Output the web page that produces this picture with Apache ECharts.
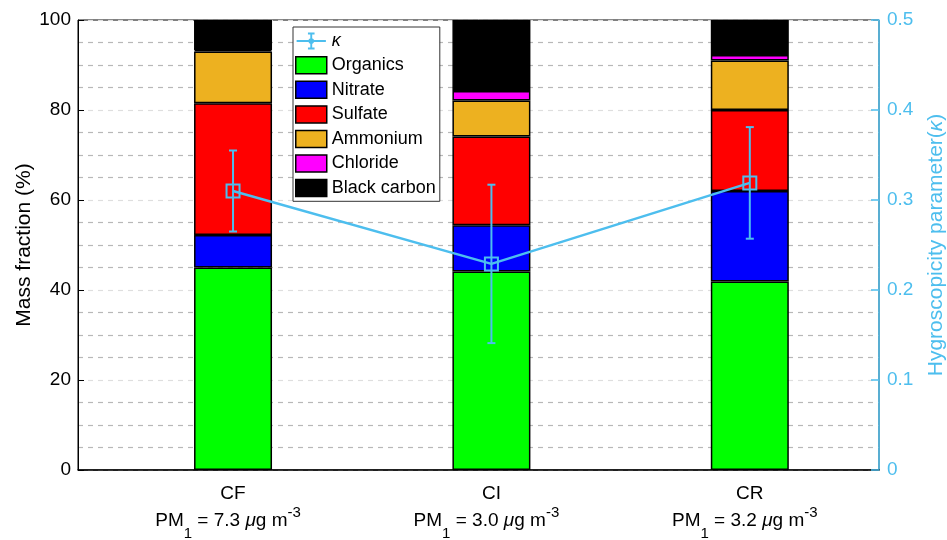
<!DOCTYPE html>
<html><head><meta charset="utf-8">
<script src="https://cdn.jsdelivr.net/npm/echarts@6/dist/echarts.min.js"></script>
<style>html,body{margin:0;padding:0;background:#fff}#c{width:947px;height:540px}</style>
</head><body><div id="c"></div>
<script>
const categories = ['CF', 'CI', 'CR'];
const pmValues = ['7.3', '3.0', '3.2'];
const xPositions = [1, 2, 3];
const organics = [45.0, 44.1, 41.9];
const nitrate = [7.2, 10.3, 20.1];
const sulfate = [29.3, 19.7, 18.0];
const ammonium = [11.5, 8.0, 11.0];
const chloride = [0.3, 2.1, 1.2];
const blackCarbon = [6.7, 15.8, 7.8];
const kappa = [0.310, 0.229, 0.319];
const kappaErr = [0.045, 0.088, 0.062];

const FONT = "'Liberation Sans', Arial, Helvetica, sans-serif";
const KC = '#4DBEEE';

const components = [
  {name: 'Organics', values: organics, color: '#00FF00'},
  {name: 'Nitrate', values: nitrate, color: '#0000FF'},
  {name: 'Sulfate', values: sulfate, color: '#FF0000'},
  {name: 'Ammonium', values: ammonium, color: '#EDB120'},
  {name: 'Chloride', values: chloride, color: '#FF00FF'},
  {name: 'Black carbon', values: blackCarbon, color: '#000000'}
];

const kappaIcon = 'path://M0,8 L31,8 L31,10 L0,10 Z M14.5,1 L16.5,1 L16.5,17 L14.5,17 Z M12,0 L19,0 L19,2 L12,2 Z M12,16 L19,16 L19,18 L12,18 Z M18.5,9 A3,3 0 1 1 12.5,9 A3,3 0 1 1 18.5,9 Z';

// value first, x position second, so the value dimension is the stacked one
const barSeries = components.map(c => ({
  name: c.name,
  type: 'bar',
  stack: 'total',
  xAxisIndex: 0,
  yAxisIndex: 0,
  barWidth: 78,
  z: 2,
  encode: {x: 1, y: 0},
  itemStyle: {color: c.color, borderColor: '#000', borderWidth: 1.5},
  data: xPositions.map((x, i) => [c.values[i], x])
}));

const chart = echarts.init(document.getElementById('c'), null, {renderer: 'canvas'});
chart.setOption({
  animation: false,
  backgroundColor: '#fff',
  textStyle: {fontFamily: FONT},
  grid: {left: 78, right: 68, top: 20, bottom: 70, containLabel: false, outerBoundsMode: 'none',
    show: true, borderColor: '#000', borderWidth: 1, backgroundColor: 'transparent'},
  legend: {
    orient: 'vertical', left: 293, top: 27,
    itemWidth: 31, itemHeight: 17, itemGap: 6.05,
    padding: [5, 4, 4, 2],
    backgroundColor: '#fff', borderColor: '#333', borderWidth: 1,
    textStyle: {fontSize: 18, color: '#000', fontFamily: FONT,
      rich: {k: {fontStyle: 'italic', fontSize: 18, fontFamily: FONT}}},
    formatter: name => name === 'κ' ? '{k|κ}' : name,
    data: [{name: 'κ', icon: kappaIcon, itemStyle: {color: KC, borderWidth: 0}}]
      .concat(components.map(c => ({name: c.name, icon: 'rect', itemStyle: {borderWidth: 1.5, borderColor: '#000'}})))
  },
  xAxis: {
    type: 'value', min: 0.4, max: 3.5,
    axisLine: {show: true, lineStyle: {color: '#000', width: 1.5}},
    axisTick: {show: false},
    splitLine: {show: false},
    axisLabel: {
      customValues: xPositions,
      margin: 12,
      formatter: v => {
        const i = xPositions.indexOf(Math.round(v));
        if (i < 0) return '';
        return '{a|' + categories[i] + '}\n{b|PM}{s|1}{b| = ' + pmValues[i] + ' }{i|μ}{b|g m}{p|-3}';
      },
      rich: {
        a: {fontSize: 19, lineHeight: 24, color: '#000', fontFamily: FONT},
        b: {fontSize: 19, lineHeight: 29, color: '#000', fontFamily: FONT},
        i: {fontSize: 19, lineHeight: 29, color: '#000', fontStyle: 'italic', fontFamily: FONT},
        s: {fontSize: 15, lineHeight: 1, padding: [27, 0, 0, 0], color: '#000', fontFamily: FONT},
        p: {fontSize: 15, lineHeight: 1, padding: [0, 10, 16, 0], color: '#000', fontFamily: FONT}
      }
    }
  },
  yAxis: [
    {
      type: 'value', min: 0, max: 100, interval: 20, position: 'left',
      name: 'Mass fraction (%)', nameLocation: 'middle', nameGap: 43, nameRotate: 90, nameMoveOverlap: false,
      nameTextStyle: {fontSize: 21, color: '#000', fontFamily: FONT},
      axisLine: {show: true, lineStyle: {color: '#000', width: 1}},
      axisTick: {show: true, inside: true, length: 6, lineStyle: {color: '#000'}},
      axisLabel: {fontSize: 19, color: '#000', margin: 7, fontFamily: FONT},
      splitLine: {show: true, lineStyle: {color: '#dedede', type: [5, 5], width: 1.2}},
      minorTick: {show: false, splitNumber: 4},
      minorSplitLine: {show: true, lineStyle: {color: '#b8b8b8', type: [5, 5], width: 1.2}}
    },
    {
      type: 'value', min: 0, max: 0.5, interval: 0.1, position: 'right',
      name: '{n|Hygroscopicity parameter(}{k|κ}{n|)}', nameLocation: 'middle', nameGap: 47, nameRotate: 90, nameMoveOverlap: false,
      nameTextStyle: {fontSize: 21, color: KC, fontFamily: FONT,
        rich: {n: {fontSize: 21, color: KC, fontFamily: FONT}, k: {fontSize: 21, color: KC, fontStyle: 'italic', fontFamily: FONT}}},
      axisLine: {show: true, lineStyle: {color: KC, width: 1.5}},
      axisTick: {show: true, inside: true, length: 8, lineStyle: {color: KC, width: 1.5}},
      axisLabel: {fontSize: 19, color: KC, margin: 8, fontFamily: FONT,
        formatter: v => v === 0 ? '0' : v.toFixed(1)},
      splitLine: {show: false}
    }
  ],
  series: barSeries.concat([
    {
      name: 'κline', type: 'line', xAxisIndex: 0, yAxisIndex: 1, z: 5,
      symbol: 'rect', symbolSize: 13,
      itemStyle: {color: 'transparent', borderColor: KC, borderWidth: 2},
      lineStyle: {color: KC, width: 2.5},
      data: xPositions.map((x, i) => [x, kappa[i]])
    },
    {
      name: 'κ', type: 'custom', xAxisIndex: 0, yAxisIndex: 1, z: 6,
      itemStyle: {color: KC},
      encode: {x: 0, y: 1},
      data: xPositions.map((x, i) => [x, kappa[i], kappaErr[i]]),
      renderItem: (params, api) => {
        const x = api.value(0), y = api.value(1), e = api.value(2);
        const top = api.coord([x, y + e]);
        const bot = api.coord([x, y - e]);
        const c = 4;
        const st = {stroke: KC, lineWidth: 2};
        return {type: 'group', children: [
          {type: 'line', shape: {x1: top[0], y1: top[1], x2: bot[0], y2: bot[1]}, style: st},
          {type: 'line', shape: {x1: top[0] - c, y1: top[1], x2: top[0] + c, y2: top[1]}, style: st},
          {type: 'line', shape: {x1: bot[0] - c, y1: bot[1], x2: bot[0] + c, y2: bot[1]}, style: st}
        ]};
      }
    }
  ])
});
</script></body></html>
